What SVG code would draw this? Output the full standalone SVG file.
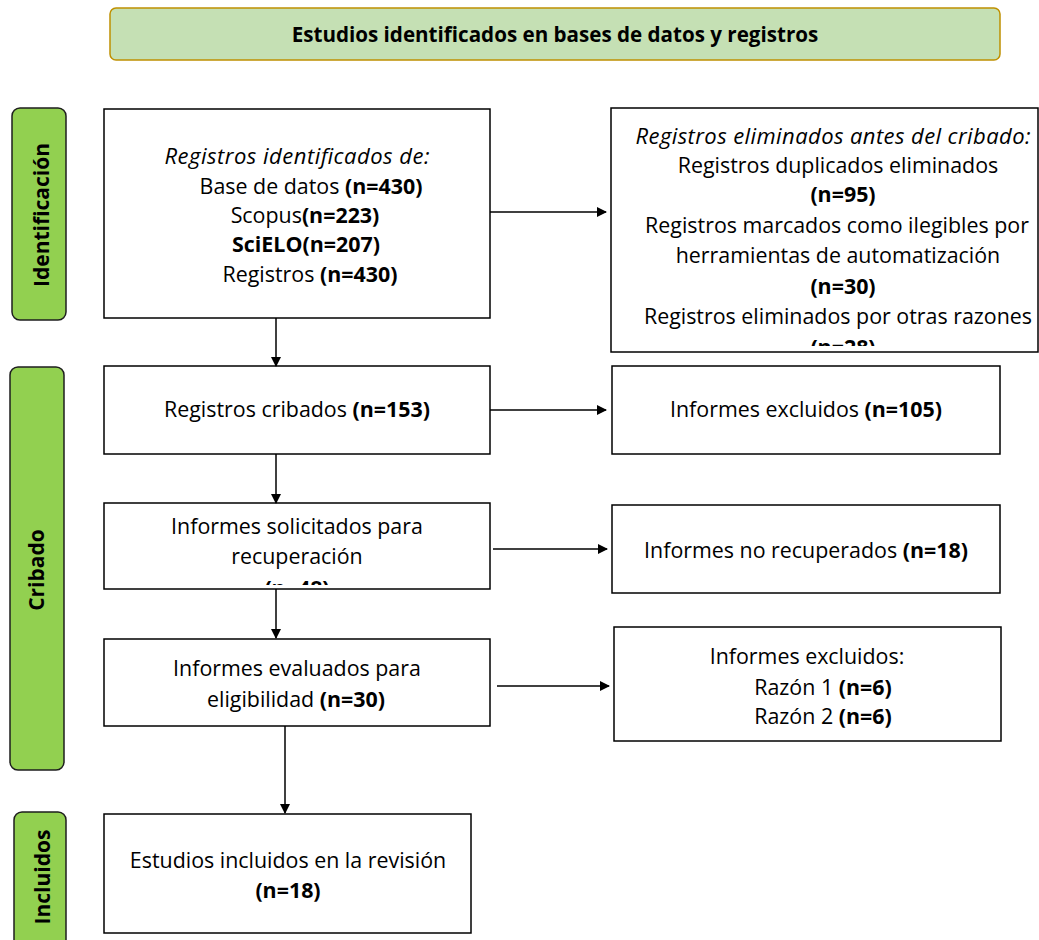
<svg xmlns="http://www.w3.org/2000/svg" width="1039" height="940" viewBox="0 0 1039 940">
<style>
  text { font-family: "Open Sans", "Noto Sans", sans-serif; font-size: 21.4px; fill: #000; text-anchor: middle; }
  .b { font-weight: 700; }
  .i { font-style: italic; font-size: 22px; }
  .box { fill: #fff; stroke: #000; stroke-width: 1.5; }
  .phase { fill: #92d050; stroke: #1e1e1e; stroke-width: 1.5; }
  .phase-t { font-weight: 700; font-size: 21px; }
  .title-t { font-weight: 700; font-size: 20.6px; }
  .conn line { stroke: #000; stroke-width: 1.5; }
</style>
<defs>
  <marker id="ah" markerWidth="10" markerHeight="10" refX="9" refY="5" orient="auto" markerUnits="userSpaceOnUse">
    <path d="M0,0 L10,5 L0,10 Z" fill="#000"/>
  </marker>
  <clipPath id="c2"><rect x="612" y="109" width="427" height="237"/></clipPath>
  <clipPath id="c5"><rect x="105" y="504" width="384" height="81"/></clipPath>
</defs>
<rect width="1039" height="940" fill="#fff"/>

<g id="title">
  <rect x="110" y="8" width="890" height="52" rx="6" fill="#c5e0b4" stroke="#bf9000" stroke-width="1.5"/>
  <text x="555" y="42" class="title-t">Estudios identificados en bases de datos y registros</text>
</g>

<g id="phase-identificacion">
  <rect class="phase" x="12" y="108" width="54" height="212" rx="8"/>
  <text class="phase-t" transform="translate(49,215) rotate(-90)">Identificación</text>
</g>
<g id="phase-cribado">
  <rect class="phase" x="10" y="367" width="54" height="403" rx="8"/>
  <text class="phase-t" transform="translate(44,570) rotate(-90)">Cribado</text>
</g>
<g id="phase-incluidos">
  <rect class="phase" x="14" y="812" width="52" height="140" rx="8"/>
  <text class="phase-t" transform="translate(50,877) rotate(-90)">Incluidos</text>
</g>

<g id="n-identificados">
  <rect class="box" x="104" y="109" width="386" height="209"/>
  <text x="297" y="164" class="i" textLength="265" lengthAdjust="spacing">Registros identificados de:</text>
  <text x="311" y="194">Base de datos <tspan class="b">(n=430)</tspan></text>
  <text x="305" y="223">Scopus<tspan class="b">(n=223)</tspan></text>
  <text x="306" y="252" class="b">SciELO(n=207)</text>
  <text x="310" y="282">Registros <tspan class="b">(n=430)</tspan></text>
</g>

<g id="n-eliminados">
  <rect class="box" x="611" y="108" width="427" height="244"/>
  <g clip-path="url(#c2)">
    <text x="833" y="144" class="i" textLength="395" lengthAdjust="spacing">Registros eliminados antes del cribado:</text>
    <text x="838" y="173">Registros duplicados eliminados</text>
    <text x="843" y="202" class="b">(n=95)</text>
    <text x="837" y="233">Registros marcados como ilegibles por</text>
    <text x="838" y="263">herramientas de automatización</text>
    <text x="843" y="294" class="b">(n=30)</text>
    <text x="838" y="324">Registros eliminados por otras razones</text>
    <text x="843" y="355" class="b">(n=28)</text>
  </g>
</g>

<g id="n-cribados">
  <rect class="box" x="104" y="366" width="386" height="88"/>
  <text x="297" y="417">Registros cribados <tspan class="b">(n=153)</tspan></text>
</g>

<g id="n-excluidos1">
  <rect class="box" x="612" y="366" width="388" height="88"/>
  <text x="806" y="417">Informes excluidos <tspan class="b">(n=105)</tspan></text>
</g>

<g id="n-solicitados">
  <rect class="box" x="104" y="503" width="386" height="86"/>
  <g clip-path="url(#c5)">
    <text x="297" y="534">Informes solicitados para</text>
    <text x="297" y="564">recuperación</text>
    <text x="297" y="596" class="b">(n=48)</text>
  </g>
</g>

<g id="n-norecuperados">
  <rect class="box" x="612" y="505" width="388" height="88"/>
  <text x="806" y="558">Informes no recuperados <tspan class="b">(n=18)</tspan></text>
</g>

<g id="n-evaluados">
  <rect class="box" x="104" y="639" width="386" height="87"/>
  <text x="297" y="676">Informes evaluados para</text>
  <text x="296" y="707">eligibilidad <tspan class="b">(n=30)</tspan></text>
</g>

<g id="n-excluidos2">
  <rect class="box" x="614" y="627" width="387" height="114"/>
  <text x="807" y="664">Informes excluidos:</text>
  <text x="823" y="695">Razón 1 <tspan class="b">(n=6)</tspan></text>
  <text x="823" y="724">Razón 2 <tspan class="b">(n=6)</tspan></text>
</g>

<g id="n-incluidos">
  <rect class="box" x="104" y="814" width="367" height="119"/>
  <text x="288" y="868">Estudios incluidos en la revisión</text>
  <text x="288" y="898" class="b">(n=18)</text>
</g>

<g id="connectors" class="conn">
  <line x1="276" y1="318" x2="276" y2="366" marker-end="url(#ah)"/>
  <line x1="490" y1="212" x2="606" y2="212" marker-end="url(#ah)"/>
  <line x1="276" y1="454" x2="276" y2="503" marker-end="url(#ah)"/>
  <line x1="490" y1="410" x2="606" y2="410" marker-end="url(#ah)"/>
  <line x1="276" y1="589" x2="276" y2="638" marker-end="url(#ah)"/>
  <line x1="493" y1="549" x2="607" y2="549" marker-end="url(#ah)"/>
  <line x1="285" y1="726" x2="285" y2="813" marker-end="url(#ah)"/>
  <line x1="497" y1="686" x2="609" y2="686" marker-end="url(#ah)"/>
</g>
</svg>
